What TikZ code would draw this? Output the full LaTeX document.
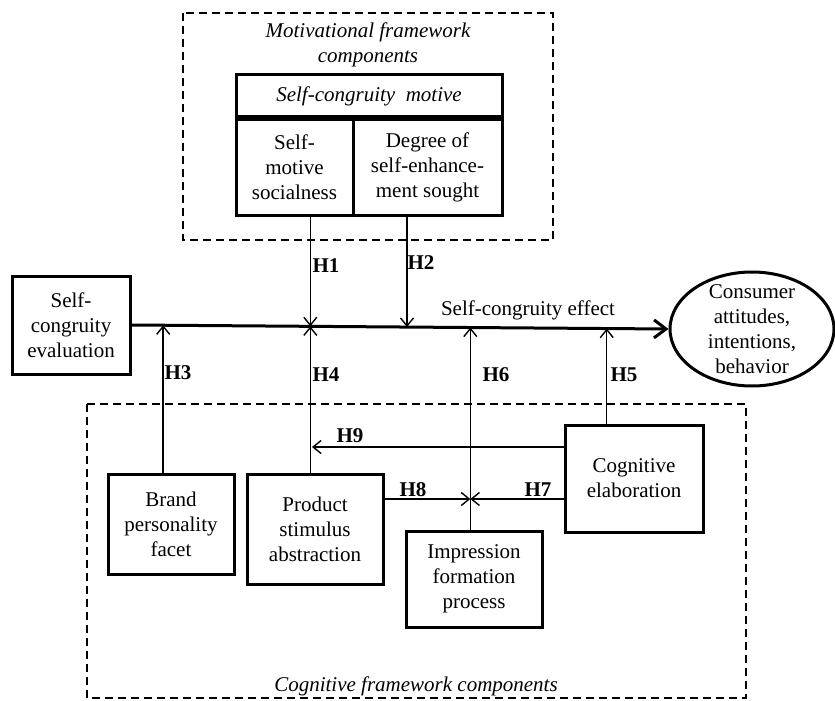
\documentclass[tikz,border=0pt]{standalone}
\usepackage{fontspec}
\setmainfont{Liberation Serif}
\usetikzlibrary{arrows.meta,positioning,shapes.geometric}
\newcommand{\diagfont}{\fontsize{10.5}{12.5}\selectfont}

\begin{document}
\begin{tikzpicture}[
  x=0.5pt, y=-0.5pt,
  font=\diagfont,
  box/.style={draw, line width=1.5pt, align=center, inner sep=0pt},
  frame/.style={draw, dash pattern=on 4pt off 2.5pt, line width=0.8pt},
  hyp/.style={font=\diagfont\bfseries},
  ital/.style={font=\diagfont\itshape, align=center},
  arr/.style={-{Straight Barb[length=4pt, width=6.5pt]}, line width=0.7pt},
  main/.style={-{Straight Barb[length=6pt, width=9pt]}, line width=1.5pt}
]
  \useasboundingbox (0,0) rectangle (835,701);

  % motivational part
  \draw[frame] (183,13) rectangle (553,240);
  \node[ital] (mtitle) at (368,45) {Motivational framework\\components};
  \node[box, ital, minimum width=133pt, minimum height=21pt] (motive) at (369,96) {Self-congruity\ \ motive};
  \node[box, anchor=north west, minimum width=58.5pt, minimum height=47.5pt] (social) at (motive.south west) {Self-\\motive\\socialness};
  \node[box, anchor=north east, minimum width=74.5pt, minimum height=47.5pt] (degree) at (motive.south east) {Degree of\\self-enhance-\\ment sought};

  % main effect
  \node[box, minimum width=59pt, minimum height=49pt] (eval) at (71,325) {Self-\\congruity\\evaluation};
  \node[box, ellipse, minimum width=82pt, minimum height=57pt, inner ysep=-8pt] (outcome) at (752,329) {Consumer\\attitudes,\\intentions,\\behavior};
  \draw[main] (eval.east) -- coordinate[pos=0.059] (j3) coordinate[pos=0.333] (j1)
    coordinate[pos=0.513] (j2) coordinate[pos=0.631] (j6) coordinate[pos=0.885] (j5) (outcome.west);
  \node (effect) at (528,310) {Self-congruity effect};

  % cognitive part
  \draw[frame] (87,404) rectangle (746,698);
  \node[ital] (ctitle) at (416,686) {Cognitive framework components};
  \node[box, minimum width=63pt, minimum height=50pt] (brand) at (171,524) {Brand\\personality\\facet};
  \node[box, minimum width=68pt, minimum height=55pt] (product) at (315,529) {Product\\stimulus\\abstraction};
  \node[box, minimum width=68pt, minimum height=48pt] (impress) at (474,579) {Impression\\formation\\process};
  \node[box, minimum width=69pt, minimum height=53.5pt] (cog) at (634,478.5) {Cognitive\\elaboration};

  \coordinate (h9) at (312,447);
  \coordinate (x6) at (j6 |- 0,499);

  \draw[arr] (social.south -| j1) -- (j1);
  \draw[arr] (degree.south -| j2) -- (j2);
  \draw[arr] (brand.north -| j3) -- (j3);
  \draw[arr] (product.north -| j1) -- (j1);
  \draw[arr] (cog.north -| j5) -- (j5);
  \draw[arr] (impress.north -| j6) -- (j6);
  \draw[arr] (cog.west |- x6) -- (x6);
  \draw[arr] (product.east |- x6) -- (x6);
  \draw[arr] (cog.west |- h9) -- (h9);

  \node[hyp] (lh1) at (326,266) {H1};
  \node[hyp] (lh2) at (421,263) {H2};
  \node[hyp] (lh3) at (178,373) {H3};
  \node[hyp] (lh4) at (326,375) {H4};
  \node[hyp] (lh5) at (624,375) {H5};
  \node[hyp] (lh6) at (496,375) {H6};
  \node[hyp] (lh7) at (538,490) {H7};
  \node[hyp] (lh8) at (413,490) {H8};
  \node[hyp] (lh9) at (350,436) {H9};
\end{tikzpicture}
\end{document}
